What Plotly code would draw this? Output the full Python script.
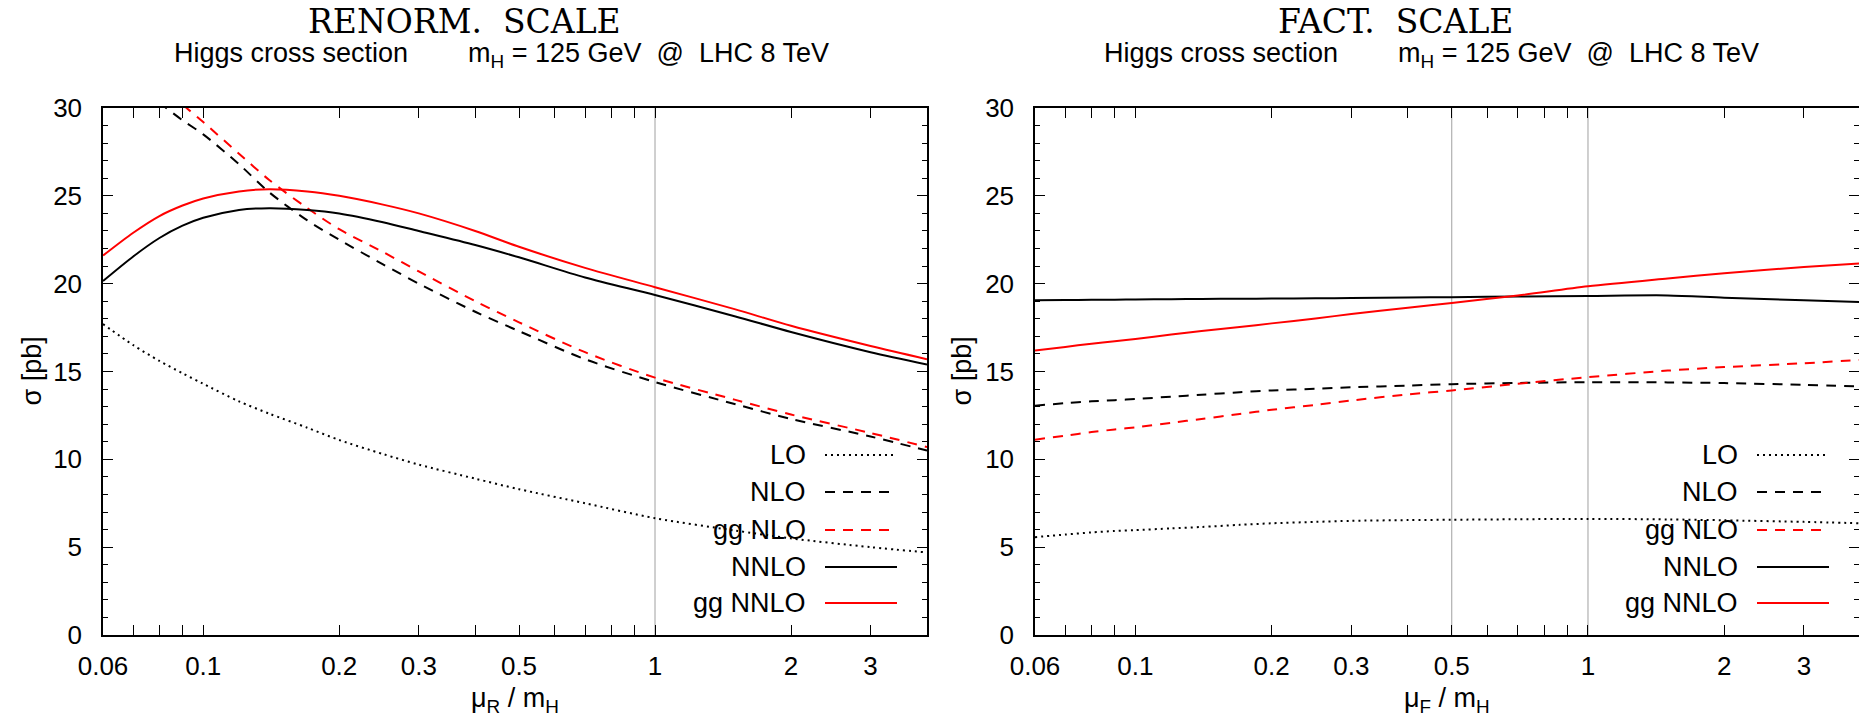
import math
import plotly.graph_objects as go

# ---------------- data ----------------
X = [0.06, 0.07, 0.08, 0.09, 0.1, 0.12, 0.14, 0.17, 0.2, 0.25, 0.3, 0.4, 0.5, 0.7, 1.0, 1.5, 2.0, 3.0, 4.0]

# renormalisation-scale variation
LO_R     = [17.7, 16.5, 15.6, 14.9, 14.3, 13.3, 12.6, 11.8, 11.1, 10.3, 9.7, 8.9, 8.3, 7.5, 6.65, 5.95, 5.5, 5.0, 4.7]
NLO_R    = [32.9, 31.5, 30.3, 29.3, 28.5, 26.8, 25.2, 23.6, 22.5, 21.1, 20.0, 18.4, 17.3, 15.7, 14.4, 13.15, 12.3, 11.3, 10.5]
GGNLO_R  = [34.3, 32.8, 31.4, 30.2, 29.2, 27.4, 25.9, 24.3, 23.1, 21.8, 20.7, 19.0, 17.8, 16.1, 14.65, 13.4, 12.55, 11.5, 10.7]
NNLO_R   = [20.15, 21.55, 22.6, 23.3, 23.75, 24.2, 24.3, 24.2, 24.0, 23.5, 23.0, 22.2, 21.5, 20.35, 19.35, 18.15, 17.25, 16.1, 15.4]
GGNNLO_R = [21.6, 22.9, 23.85, 24.45, 24.85, 25.25, 25.38, 25.25, 25.0, 24.5, 24.0, 23.0, 22.1, 20.9, 19.8, 18.55, 17.6, 16.45, 15.7]

# factorisation-scale variation
LO_F     = [5.57, 5.72, 5.84, 5.92, 5.97, 6.07, 6.15, 6.27, 6.36, 6.44, 6.5, 6.54, 6.56, 6.59, 6.61, 6.58, 6.53, 6.44, 6.36]
NLO_F    = [13.05, 13.2, 13.3, 13.37, 13.43, 13.57, 13.68, 13.82, 13.92, 14.02, 14.1, 14.2, 14.28, 14.35, 14.39, 14.38, 14.34, 14.24, 14.15]
GGNLO_F  = [11.12, 11.35, 11.55, 11.7, 11.82, 12.08, 12.3, 12.58, 12.82, 13.1, 13.35, 13.7, 13.92, 14.3, 14.68, 15.05, 15.25, 15.47, 15.66]
NNLO_F   = [19.05, 19.07, 19.08, 19.09, 19.1, 19.12, 19.13, 19.14, 19.15, 19.17, 19.18, 19.21, 19.23, 19.27, 19.3, 19.33, 19.2, 19.05, 18.96]
GGNNLO_F = [16.19, 16.4, 16.58, 16.72, 16.85, 17.1, 17.3, 17.53, 17.74, 18.02, 18.27, 18.63, 18.9, 19.33, 19.85, 20.3, 20.6, 20.95, 21.16]

SERIES = ["LO", "NLO", "gg NLO", "NNLO", "gg NNLO"]
REF_LINES_R = [1.0]
REF_LINES_F = [0.5, 1.0]

XTICKS = [0.06, 0.1, 0.2, 0.3, 0.5, 1, 2, 3]
XTICKTEXT = ["0.06", "0.1", "0.2", "0.3", "0.5", "1", "2", "3"]
XMINOR = [0.07, 0.08, 0.09, 0.4, 0.6, 0.7, 0.8, 0.9]
YTICKS = [0, 5, 10, 15, 20, 25, 30]

# ---------------- styling ----------------
W, H = 1859, 719
SANS = "Liberation Sans, Arial, Helvetica, sans-serif"
SERIF = "DejaVu Serif, Century Schoolbook, serif"
styles = {
    "LO": dict(color="black", dash="2px,4px"),
    "NLO": dict(color="black", dash="10px,8px"),
    "gg NLO": dict(color="#ff0000", dash="10px,8px"),
    "NNLO": dict(color="black", dash="solid"),
    "gg NNLO": dict(color="#ff0000", dash="solid"),
}

fig = go.Figure()

def add_panel(xa, ya, data, refs):
    for r in refs:
        fig.add_trace(go.Scatter(x=[r, r], y=[0, 30], mode="lines", xaxis=xa, yaxis=ya,
                                 line=dict(color="#a0a0a0", width=1), hoverinfo="skip",
                                 showlegend=False))
    for name, ys in zip(SERIES, data):
        st = styles[name]
        fig.add_trace(go.Scatter(x=X, y=ys, mode="lines", name=name, xaxis=xa, yaxis=ya,
                                 line=dict(color=st["color"], dash=st["dash"], width=2,
                                           shape="spline", smoothing=0.8),
                                 showlegend=False))

add_panel("x", "y", [LO_R, NLO_R, GGNLO_R, NNLO_R, GGNNLO_R], REF_LINES_R)
add_panel("x2", "y2", [LO_F, NLO_F, GGNLO_F, NNLO_F, GGNNLO_F], REF_LINES_F)

y0 = 1 - 635 / H
y1 = 1 - 108 / H
xl = (103 / W, 927 / W)
xr = (1035 / W, 1.0)

axis_common = dict(showline=True, linecolor="black", linewidth=1.5, mirror="allticks",
                   ticks="inside", tickcolor="black", tickwidth=1, showgrid=False, zeroline=False,
                   automargin=False,
                   tickfont=dict(family=SANS, size=26, color="black"))
xcommon = dict(axis_common, type="log", tickmode="array", tickvals=XTICKS, ticktext=XTICKTEXT,
               ticklen=10, ticklabelstandoff=7,
               minor=dict(tickmode="array", tickvals=XMINOR, ticklen=10, ticks="inside",
                          tickcolor="black", showgrid=False))
ycommon = dict(axis_common, range=[0, 30], tickmode="array", tickvals=YTICKS, ticklen=10,
               ticklabelstandoff=14,
               minor=dict(dtick=1, ticklen=5, ticks="inside", tickcolor="black", showgrid=False))

fig.update_layout(
    width=W, height=H, margin=dict(l=0, r=0, t=0, b=0, autoexpand=False),
    paper_bgcolor="white", plot_bgcolor="white",
    xaxis=dict(xcommon, domain=list(xl), range=[math.log10(0.06), math.log10(4.0)], anchor="y"),
    yaxis=dict(ycommon, domain=[y0, y1], anchor="x"),
    xaxis2=dict(xcommon, domain=list(xr), range=[math.log10(0.06), math.log10(3.97)], anchor="y2"),
    yaxis2=dict(ycommon, domain=[y0, y1], anchor="x2"),
    showlegend=False,
)

ann = []
def panel_text(cx_title, x_sub, title, xa, ya, xlabel, ylab_x):
    ann.append(dict(text=title, x=cx_title / W, y=1 - 21 / H, xref="paper", yref="paper",
                    xanchor="center", yanchor="middle", showarrow=False,
                    font=dict(family=SERIF, size=33, color="black")))
    ann.append(dict(text="Higgs cross section\u00a0\u00a0\u00a0\u00a0\u00a0\u00a0\u00a0 m<sub>H</sub> = 125 GeV \u00a0@ \u00a0LHC 8 TeV",
                    x=x_sub / W, y=1 - 55 / H, xref="paper", yref="paper",
                    xanchor="left", yanchor="middle", showarrow=False,
                    font=dict(family=SANS, size=27, color="black")))
    ann.append(dict(text=xlabel, x=0.5, y=1 - 700 / H, xref=xa + " domain", yref="paper",
                    xanchor="center", yanchor="middle", showarrow=False,
                    font=dict(family=SANS, size=27, color="black")))
    ann.append(dict(text="\u03c3 [pb]", x=ylab_x / W, y=0.5, xref="paper", yref=ya + " domain",
                    xanchor="center", yanchor="middle", textangle=-90, showarrow=False,
                    font=dict(family=SANS, size=27, color="black")))

panel_text(465, 172, "RENORM.\u00a0 SCALE", "x", "y", "\u03bc<sub>R</sub> / m<sub>H</sub>", 31)
panel_text(1395, 1102, "FACT.\u00a0 SCALE", "x2", "y2", "\u03bc<sub>F</sub> / m<sub>H</sub>", 961)

# key (text on the left, sample line on the right)
rows_px = [455, 492, 530, 567, 603]
shapes = []
for xa, ya in (("x", "y"), ("x2", "y2")):
    for name, rp in zip(SERIES, rows_px):
        yd = (635 - rp) / 527
        st = styles[name]
        ann.append(dict(text=name, x=705 / 824, y=yd, xref=xa + " domain", yref=ya + " domain",
                        xanchor="right", yanchor="middle", showarrow=False,
                        font=dict(family=SANS, size=27, color="black")))
        shapes.append(dict(type="line", xref=xa + " domain", yref=ya + " domain",
                           x0=722 / 824, x1=794 / 824, y0=yd, y1=yd,
                           line=dict(color=st["color"], dash=st["dash"], width=2)))

fig.update_layout(annotations=ann, shapes=shapes)
fig.write_html("out.html")
